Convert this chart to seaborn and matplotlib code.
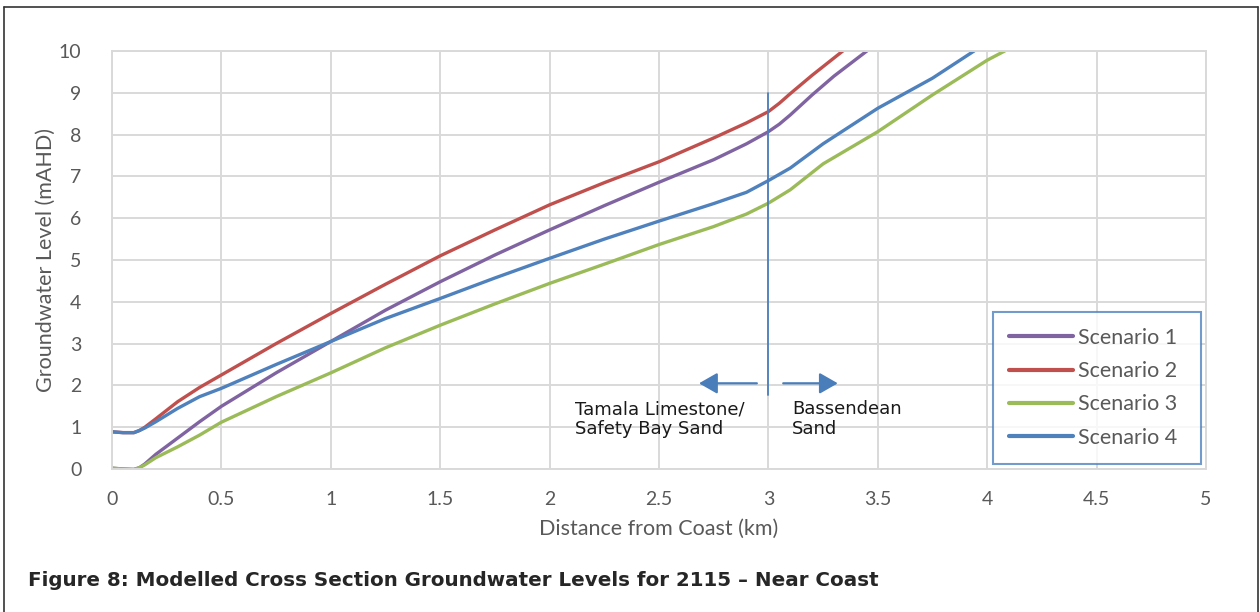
import pandas as pd
import matplotlib.pyplot as plt
import seaborn as sns
from matplotlib.lines import Line2D
from matplotlib.patches import FancyArrowPatch

# Valores (distancia en km, nivel en mAHD)
s1_x = [0, 0.05, 0.1, 0.125, 0.15, 0.2, 0.3, 0.4, 0.5, 0.75, 1.0, 1.25, 1.5, 1.75, 2.0, 2.25, 2.5, 2.75, 2.9, 3.0, 3.05, 3.1, 3.2, 3.3, 3.45]
s1_y = [0.02, 0.0, -0.01, 0.03, 0.12, 0.35, 0.74, 1.13, 1.5, 2.3, 3.05, 3.8, 4.48, 5.12, 5.72, 6.3, 6.86, 7.4, 7.78, 8.07, 8.25, 8.47, 8.95, 9.4, 10.0]

s2_x = [0, 0.05, 0.1, 0.125, 0.15, 0.2, 0.3, 0.4, 0.5, 0.75, 1.0, 1.25, 1.5, 1.75, 2.0, 2.25, 2.5, 2.75, 2.9, 3.0, 3.05, 3.1, 3.2, 3.34]
s2_y = [0.89, 0.87, 0.87, 0.92, 1.0, 1.2, 1.61, 1.95, 2.25, 3.0, 3.72, 4.42, 5.1, 5.72, 6.32, 6.85, 7.35, 7.92, 8.28, 8.55, 8.75, 8.98, 9.42, 10.0]

s3_x = [0, 0.05, 0.1, 0.125, 0.15, 0.2, 0.3, 0.4, 0.5, 0.75, 1.0, 1.25, 1.5, 1.75, 2.0, 2.25, 2.5, 2.75, 2.9, 3.0, 3.1, 3.25, 3.5, 3.75, 4.0, 4.08]
s3_y = [0.02, 0.0, -0.01, 0.03, 0.1, 0.27, 0.53, 0.81, 1.12, 1.73, 2.3, 2.9, 3.44, 3.95, 4.44, 4.9, 5.37, 5.8, 6.1, 6.36, 6.68, 7.3, 8.07, 8.95, 9.78, 10.0]

s4_x = [0, 0.05, 0.1, 0.125, 0.15, 0.2, 0.3, 0.4, 0.5, 0.75, 1.0, 1.25, 1.5, 1.75, 2.0, 2.25, 2.5, 2.75, 2.9, 3.0, 3.1, 3.25, 3.5, 3.75, 3.94]
s4_y = [0.89, 0.87, 0.87, 0.92, 0.98, 1.13, 1.45, 1.73, 1.93, 2.5, 3.05, 3.6, 4.08, 4.57, 5.04, 5.5, 5.93, 6.35, 6.62, 6.9, 7.2, 7.78, 8.63, 9.35, 10.0]

scenarios = ["Scenario 1", "Scenario 2", "Scenario 3", "Scenario 4"]
colores = ["#8064A2", "#C0504D", "#9BBB59", "#4F81BD"]

x_ticks = [0, 0.5, 1, 1.5, 2, 2.5, 3, 3.5, 4, 4.5, 5]
x_labels = ["0", "0.5", "1", "1.5", "2", "2.5", "3", "3.5", "4", "4.5", "5"]
y_ticks = list(range(0, 11))

# Tabla larga para seaborn
partes = []
for nombre, xs, ys in zip(scenarios, [s1_x, s2_x, s3_x, s4_x], [s1_y, s2_y, s3_y, s4_y]):
    partes.append(pd.DataFrame({"dist": xs, "nivel": ys, "escenario": nombre}))
df = pd.concat(partes, ignore_index=True)

sns.set_style("white")
plt.rcParams["font.family"] = ["Lato", "DejaVu Sans"]
plt.rcParams["lines.solid_joinstyle"] = "round"

fig = plt.figure(figsize=(12.6, 6.12), dpi=100)
ax = fig.add_axes([112 / 1260, 1 - 469 / 612, 1094 / 1260, 418 / 612])

sns.lineplot(data=df, x="dist", y="nivel", hue="escenario", hue_order=scenarios,
             palette=dict(zip(scenarios, colores)), linewidth=2.4, sort=False,
             estimator=None, ax=ax)

ax.set_xlim(0, 5)
ax.set_ylim(0, 10)
ax.set_xticks(x_ticks)
ax.set_xticklabels(x_labels)
ax.set_yticks(y_ticks)
ax.grid(True, color="#d9d9d9", linewidth=1.4)
ax.set_axisbelow(True)
for lado in ax.spines.values():
    lado.set_color("#d9d9d9")
    lado.set_linewidth(1.4)
ax.tick_params(length=0, labelsize=14, labelcolor="#595959")
ax.tick_params(axis="x", pad=16)
ax.tick_params(axis="y", pad=22)

ax.set_xlabel("Distance from Coast (km)", fontsize=15.5, color="#595959", labelpad=8)
ax.set_ylabel("Groundwater Level (mAHD)", fontsize=15.5, color="#595959", labelpad=2)

# Límite geológico
ax.plot([3, 3], [1.77, 9.0], color="#4A7EBB", linewidth=1.3)
ax.add_patch(FancyArrowPatch((2.96, 2.05), (2.67, 2.05), arrowstyle="-|>,head_length=7,head_width=4",
                             color="#4A7EBB", linewidth=1.6, mutation_scale=1.6))
ax.add_patch(FancyArrowPatch((3.055, 2.05), (3.33, 2.05), arrowstyle="-|>,head_length=7,head_width=4",
                             color="#4A7EBB", linewidth=1.6, mutation_scale=1.6))
ax.text(2.118, 1.65, "Tamala Limestone/\nSafety Bay Sand", fontsize=13, va="top", ha="left",
        color="#1a1a1a", linespacing=1.15, family=["DejaVu Sans"])
ax.text(3.108, 1.65, "Bassendean\nSand", fontsize=13, va="top", ha="left",
        color="#1a1a1a", linespacing=1.15, family=["DejaVu Sans"])

leg = ax.legend(loc="lower left", bbox_to_anchor=(0.805, 0.012, 0.19, 0.373), mode="expand",
                borderaxespad=0, frameon=True, fancybox=False, fontsize=15.5, handlelength=3.0,
                labelspacing=0.62, borderpad=0.75, handletextpad=0.2)
leg.get_frame().set_edgecolor("#4F81BD")
leg.get_frame().set_linewidth(1.5)
for t in leg.get_texts():
    t.set_color("#595959")
for h in leg.get_lines():
    h.set_linewidth(3)

fig.text(28 / 1260, 1 - 580 / 612, "Figure 8: Modelled Cross Section Groundwater Levels for 2115 \u2013 Near Coast",
         fontsize=14.3, fontweight="bold", va="center", ha="left", family=["DejaVu Sans"])

# Marco exterior
for xs, ys in [([4 / 1260, 4 / 1260], [0, 1 - 7 / 612]),
               ([4 / 1260, 1258 / 1260], [1 - 7 / 612, 1 - 7 / 612]),
               ([1258 / 1260, 1258 / 1260], [0, 1 - 7 / 612])]:
    fig.add_artist(Line2D(xs, ys, color="#333333", linewidth=1.2, transform=fig.transFigure))

fig.savefig("out.png", dpi=100)
